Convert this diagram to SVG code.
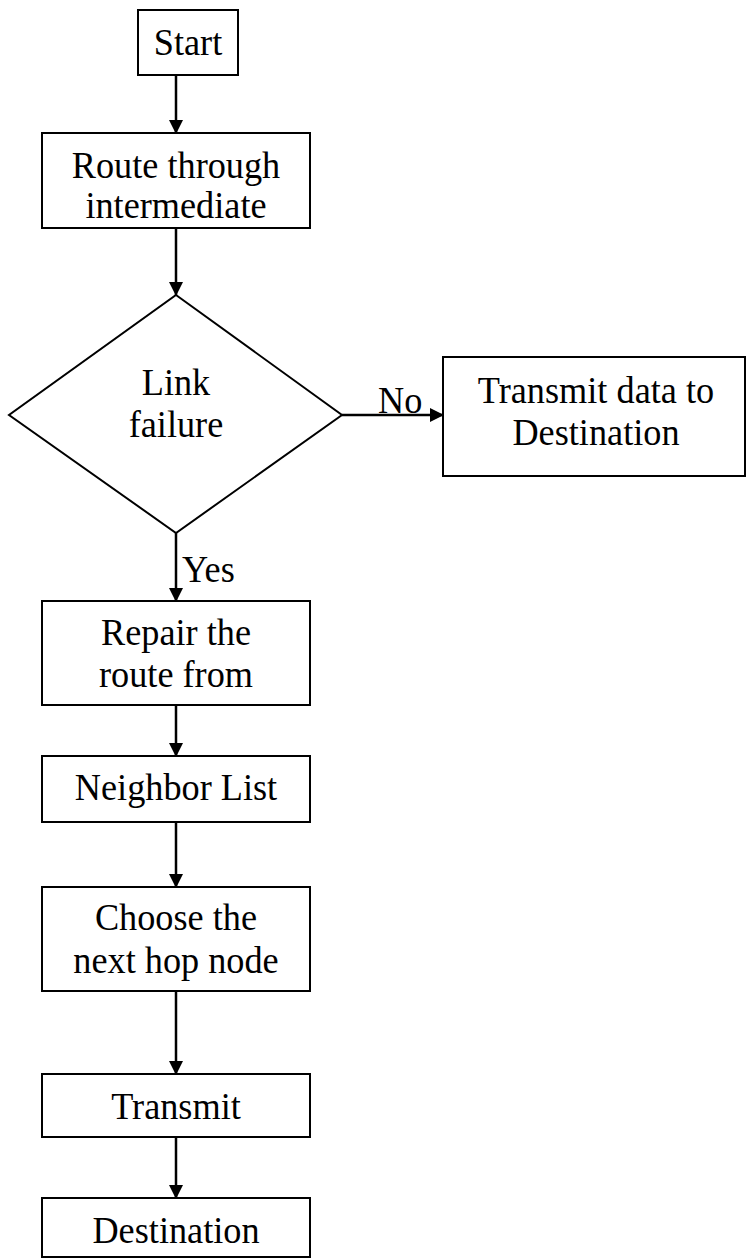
<svg xmlns="http://www.w3.org/2000/svg" width="747" height="1259" viewBox="0 0 747 1259">
<style>
.box{fill:#fff;stroke:#000;stroke-width:2}
.t{font-family:"Liberation Serif","Times New Roman",serif;font-size:39px;fill:#000;text-anchor:middle;transform-box:fill-box;transform-origin:center;transform:scaleX(0.93)}
.lbl{font-family:"Liberation Serif","Times New Roman",serif;font-size:39px;fill:#000;transform-box:fill-box;transform-origin:left;transform:scaleX(0.93)}
.c{stroke:#000;stroke-width:2.5;fill:none;marker-end:url(#ah)}
</style>
<defs>
<marker id="ah" markerWidth="14" markerHeight="14" refX="13" refY="7" orient="auto" markerUnits="userSpaceOnUse">
<path d="M0,0 L14,7 L0,14 Z" fill="#000"/>
</marker>
</defs>
<rect width="747" height="1259" fill="#fff"/>
<g id="connectors">
<line class="c" x1="176" y1="75" x2="176" y2="133"/>
<line class="c" x1="176" y1="228" x2="176" y2="295"/>
<line class="c" x1="342" y1="415" x2="443" y2="415"/>
<line class="c" x1="176" y1="533" x2="176" y2="601"/>
<line class="c" x1="176" y1="705" x2="176" y2="756"/>
<line class="c" x1="176" y1="822" x2="176" y2="887"/>
<line class="c" x1="176" y1="991" x2="176" y2="1074"/>
<line class="c" x1="176" y1="1137" x2="176" y2="1198"/>
<text class="lbl" x="378" y="413">No</text>
<text class="lbl" x="182" y="582">Yes</text>
</g>
<g id="start">
<rect class="box" x="138" y="10" width="100" height="65"/>
<text class="t" x="188" y="55">Start</text>
</g>
<g id="route">
<rect class="box" x="42" y="133" width="268" height="95"/>
<text class="t" x="176" y="178">Route through</text>
<text class="t" x="176" y="218">intermediate</text>
</g>
<g id="decision">
<polygon class="box" points="176,295 342,415 176,533 9,415"/>
<text class="t" x="176" y="395">Link</text>
<text class="t" x="176" y="437">failure</text>
</g>
<g id="transmitdata">
<rect class="box" x="443" y="357" width="302" height="119"/>
<text class="t" x="596" y="403">Transmit data to</text>
<text class="t" x="596" y="445">Destination</text>
</g>
<g id="repair">
<rect class="box" x="42" y="601" width="268" height="104"/>
<text class="t" x="176" y="645">Repair the</text>
<text class="t" x="176" y="687">route from</text>
</g>
<g id="neighbor">
<rect class="box" x="42" y="756" width="268" height="66"/>
<text class="t" x="176" y="800">Neighbor List</text>
</g>
<g id="choose">
<rect class="box" x="42" y="887" width="268" height="104"/>
<text class="t" x="176" y="930">Choose the</text>
<text class="t" x="176" y="973">next hop node</text>
</g>
<g id="transmit">
<rect class="box" x="42" y="1074" width="268" height="63"/>
<text class="t" x="176" y="1119">Transmit</text>
</g>
<g id="destination">
<rect class="box" x="42" y="1198" width="268" height="59"/>
<text class="t" x="176" y="1243">Destination</text>
</g>
</svg>
